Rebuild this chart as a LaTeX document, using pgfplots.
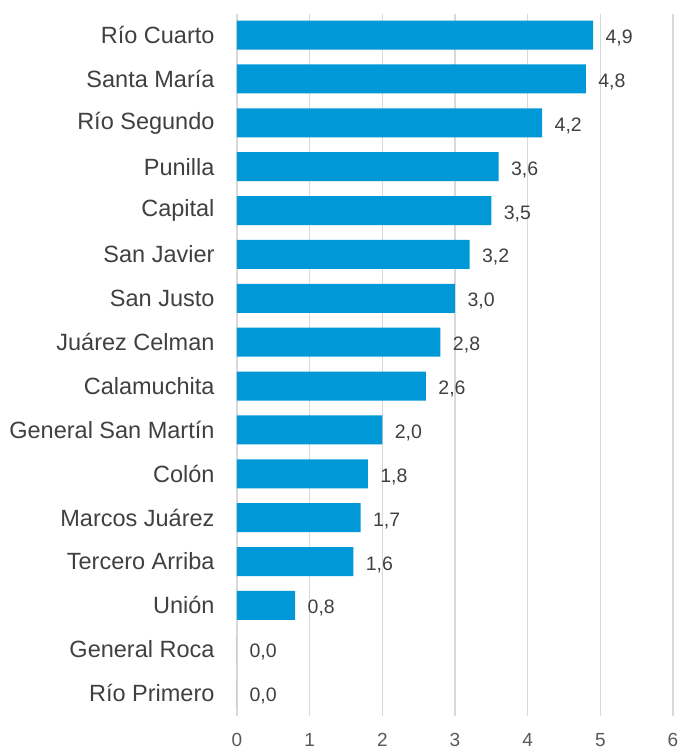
\documentclass[border=0pt]{standalone}
\usepackage{fontspec}
\setmainfont{Liberation Sans}
\usepackage{pgfplots}
\usepackage{pgfplotstable}
\pgfplotsset{compat=1.18}
\definecolor{barblue}{RGB}{0,152,214}
\definecolor{gridgray}{RGB}{217,217,217}
\definecolor{labgray}{RGB}{64,64,64}
\definecolor{tickgray}{RGB}{89,89,89}
\pgfplotstableread{
y val
0 0.0
1 0.0
2 0.8
3 1.6
4 1.7
5 1.8
6 2.0
7 2.6
8 2.8
9 3.0
10 3.2
11 3.5
12 3.6
13 4.2
14 4.8
15 4.9
}\data
\begin{document}
\begin{tikzpicture}
\begin{axis}[
  name=ax,
  scale only axis,
  width=436pt, height=702pt,
  xbar, bar width=29pt,
  xmin=0, xmax=6, ymin=-0.52, ymax=15.48,
  enlargelimits=false,
  xtick={0,1,2,3,4,5,6},
  ytick={0,...,15},
  yticklabels={Río Primero, General Roca, Unión, Tercero Arriba, Marcos Juárez, Colón, General San Martín, Calamuchita, Juárez Celman, San Justo, San Javier, Capital, Punilla, Río Segundo, Santa María, Río Cuarto},
  xmajorgrids, grid style={gridgray, line width=1.5pt},
  axis line style={draw=none},
  major tick length=0pt,
  tick style={draw=none},
  /pgf/number format/assume math mode=true,
  yticklabel style={font=\fontsize{23.5}{28}\selectfont, text=labgray, xshift=-19pt},
  xticklabel style={font=\fontsize{19}{23}\selectfont, text=tickgray, inner sep=0pt, anchor=north, yshift=-17pt},
  point meta=x,
  nodes near coords={\pgfmathprintnumber[fixed,fixed zerofill,precision=1,use comma,assume math mode=true]{\pgfplotspointmeta}},
  nodes near coords style={font=\fontsize{19.5}{23}\selectfont, text=labgray, anchor=west, xshift=9pt, yshift=-3pt},
]
\addplot[fill=barblue, draw=none] table[x=val, y=y] \data;
\end{axis}
\pgfresetboundingbox
\path ([shift={(-237pt,-33pt)}]ax.south west) rectangle ([shift={(442pt,716pt)}]ax.south west);
\end{tikzpicture}
\end{document}
